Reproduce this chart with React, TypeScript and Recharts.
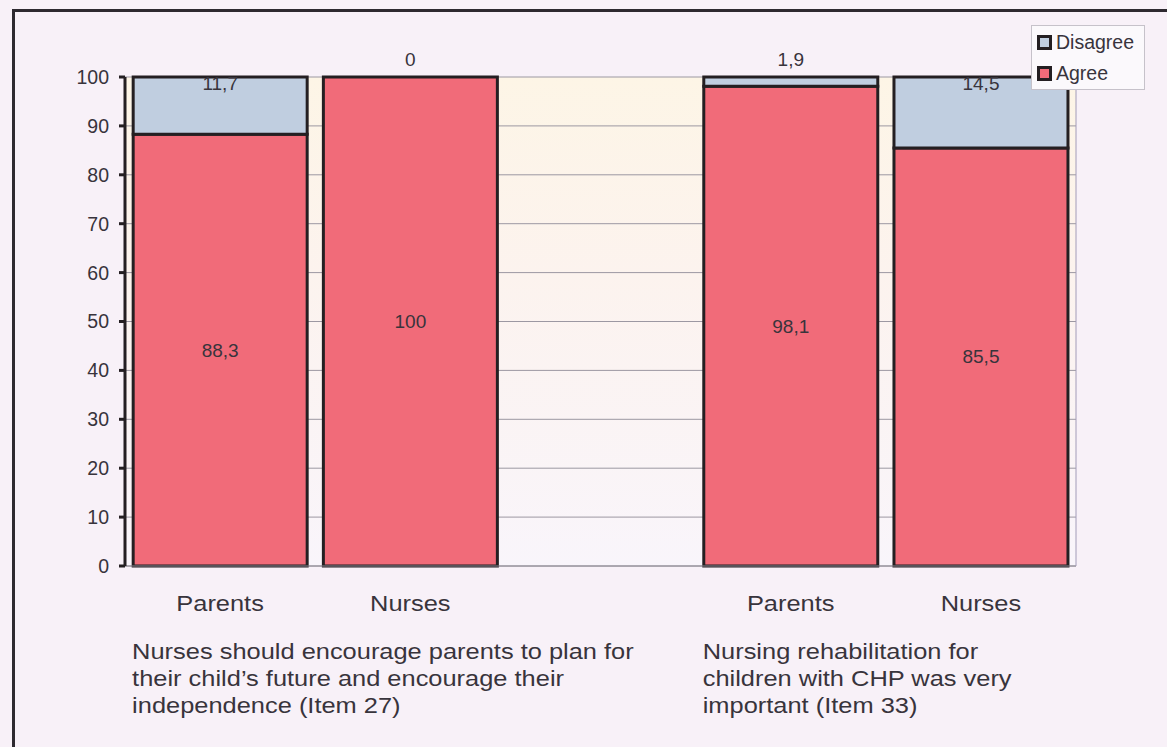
import React from 'react';
import { BarChart, Bar, XAxis, YAxis, CartesianGrid, LabelList, Legend } from 'recharts';

const categories = ['Parents', 'Nurses', '', 'Parents', 'Nurses'];
const agreeValues: (number | null)[] = [88.3, 100, null, 98.1, 85.5];
const disagreeValues: (number | null)[] = [11.7, 0, null, 1.9, 14.5];
const yTicks = [0, 10, 20, 30, 40, 50, 60, 70, 80, 90, 100];
const seriesNames = { agree: 'Agree', disagree: 'Disagree' };
const groupLabels = [
  {
    start: 0,
    lines: [
      'Nurses should encourage parents to plan for',
      'their child\u2019s future and encourage their',
      'independence (Item 27)',
    ],
  },
  {
    start: 3,
    lines: ['Nursing rehabilitation for', 'children with CHP was very', 'important (Item 33)'],
  },
];

const data = categories.map((c, i) => ({
  key: `c${i}`,
  cat: c,
  agree: agreeValues[i],
  disagree: disagreeValues[i],
}));

const FONT = '"Liberation Sans", Arial, Helvetica, sans-serif';
const TEXT = '#38343c';
const AGREE = '#f16b79';
const DISAGREE = '#c0cee0';
const EDGE = '#241f22';
const STRETCH = 1.13;

const fmt = (v: any) => String(v).replace('.', ',');

const CatTick = (props: any) => {
  const { x, y, payload } = props;
  const idx = data.findIndex((d) => d.key === payload.value);
  const label = idx >= 0 ? data[idx].cat : '';
  if (!label) return null;
  return (
    <text
      transform={`translate(${x},${y + 45}) scale(${STRETCH},1)`}
      textAnchor="middle"
      fontFamily={FONT}
      fontSize={22.5}
      fill={TEXT}
    >
      {label}
    </text>
  );
};

const GroupTick = (props: any) => {
  const { x, y, payload } = props;
  const idx = data.findIndex((d) => d.key === payload.value);
  const g = groupLabels.find((gl) => gl.start === idx);
  if (!g) return null;
  return (
    <g>
      {g.lines.map((line, i) => (
        <text
          key={i}
          transform={`translate(${x - 88},${y + 53 + i * 27}) scale(${STRETCH},1)`}
          textAnchor="start"
          fontFamily={FONT}
          fontSize={22.5}
          fill={TEXT}
        >
          {line}
        </text>
      ))}
    </g>
  );
};

const getBox = (props: any) => {
  const vb = props.viewBox && props.viewBox.width !== undefined ? props.viewBox : props;
  return { x: Number(vb.x), y: Number(vb.y), width: Number(vb.width), height: Number(vb.height) };
};

const AgreeLabel = (props: any) => {
  const { value } = props;
  if (value === null || value === undefined) return null;
  const b = getBox(props);
  return (
    <text
      x={b.x + b.width / 2}
      y={b.y + b.height / 2}
      textAnchor="middle"
      dominantBaseline="central"
      fontFamily={FONT}
      fontSize={19}
      fill={TEXT}
    >
      {fmt(value)}
    </text>
  );
};

// Disagree labels are attached to the Agree segment (value = whole row), so
// zero-height Disagree segments still get a label. The stack top is derived
// from the Agree segment's own px-per-unit scale.
const DisagreeLabel = (props: any) => {
  const row = props.value;
  if (!row || row.agree == null || row.disagree == null) return null;
  const b = getBox(props);
  const top = Math.min(b.y, b.y + b.height);
  const pxPerUnit = Math.abs(b.height) / row.agree;
  const stackTop = top - row.disagree * pxPerUnit;
  const cy = row.disagree < 5 ? stackTop - 18 : stackTop + 6;
  return (
    <text
      x={b.x + b.width / 2}
      y={cy}
      textAnchor="middle"
      dominantBaseline="central"
      fontFamily={FONT}
      fontSize={19}
      fill={TEXT}
    >
      {fmt(row.disagree)}
    </text>
  );
};

const LegendBox = () => {
  const items = [
    { name: seriesNames.disagree, color: DISAGREE },
    { name: seriesNames.agree, color: AGREE },
  ];
  return (
    <div
      style={{
        width: 114,
        height: 65,
        boxSizing: 'border-box',
        background: '#fbf9fc',
        border: '1px solid #c6c2ca',
        padding: '1px 0 0 5px',
        fontFamily: FONT,
        fontSize: 19.5,
        color: TEXT,
      }}
    >
      {items.map((it) => (
        <div key={it.name} style={{ display: 'flex', alignItems: 'center', height: 31 }}>
          <span
            style={{
              display: 'inline-block',
              width: 9,
              height: 9,
              border: `3px solid ${EDGE}`,
              background: it.color,
              marginRight: 4,
            }}
          />
          <span>{it.name}</span>
        </div>
      ))}
    </div>
  );
};

export default function App() {
  return (
    <div
      style={{
        position: 'absolute',
        left: 0,
        top: 0,
        width: 1167,
        height: 747,
        overflow: 'hidden',
        background: '#f8f1f8',
      }}
    >
      <div
        style={{
          position: 'absolute',
          left: 12,
          top: 9,
          width: 1300,
          height: 900,
          borderLeft: '3px solid #2e2a30',
          borderTop: '3px solid #2e2a30',
        }}
      />
      <svg width={0} height={0} style={{ position: 'absolute' }}>
        <defs>
          <linearGradient id="plotBg" x1="0" y1="0" x2="0" y2="1">
            <stop offset="0%" stopColor="#fdf5e6" />
            <stop offset="40%" stopColor="#fcf3ee" />
            <stop offset="100%" stopColor="#f9f5fb" />
          </linearGradient>
        </defs>
      </svg>
      <div style={{ position: 'absolute', left: 0, top: 0 }}>
        <BarChart
          width={1167}
          height={747}
          data={data}
          margin={{ top: 77, right: 90, bottom: 11, left: 0 }}
          barCategoryGap="4.3%"
        >
          <CartesianGrid
            vertical={false}
            stroke="#9c98a2"
            strokeWidth={1}
            fill="url(#plotBg)"
            fillOpacity={1}
          />
          <XAxis
            dataKey="key"
            height={40}
            interval={0}
            tickLine={false}
            tickSize={0}
            tickMargin={0}
            axisLine={{ stroke: '#8c8892', strokeWidth: 1 }}
            tick={<CatTick />}
          />
          <XAxis
            xAxisId="g"
            dataKey="key"
            height={130}
            interval={0}
            tickLine={false}
            tickSize={0}
            tickMargin={0}
            axisLine={false}
            tick={<GroupTick />}
          />
          <YAxis
            type="number"
            domain={[0, 100]}
            ticks={yTicks}
            interval={0}
            width={125}
            axisLine={{ stroke: EDGE, strokeWidth: 3 }}
            tickLine={{ stroke: EDGE, strokeWidth: 3 }}
            tickSize={6}
            tickMargin={10}
            tick={{ fill: TEXT, fontSize: 19.5, fontFamily: FONT }}
          />
          <YAxis
            yAxisId="right"
            orientation="right"
            type="number"
            domain={[0, 100]}
            width={1}
            tick={false}
            tickLine={false}
            axisLine={{ stroke: '#a29cb8', strokeWidth: 1 }}
          />
          <Legend
            layout="vertical"
            align="center"
            verticalAlign="middle"
            wrapperStyle={{ position: 'absolute', left: 1031, top: 25, width: 114, height: 65 }}
            content={<LegendBox />}
          />
          <Bar
            dataKey="agree"
            name={seriesNames.agree}
            stackId="s"
            fill={AGREE}
            stroke={EDGE}
            strokeWidth={3}
            isAnimationActive={false}
          >
            <LabelList dataKey="agree" content={<AgreeLabel />} />
            <LabelList dataKey={(d: any) => d} content={<DisagreeLabel />} />
          </Bar>
          <Bar
            dataKey="disagree"
            name={seriesNames.disagree}
            stackId="s"
            fill={DISAGREE}
            stroke={EDGE}
            strokeWidth={3}
            isAnimationActive={false}
          />
        </BarChart>
      </div>
    </div>
  );
}
